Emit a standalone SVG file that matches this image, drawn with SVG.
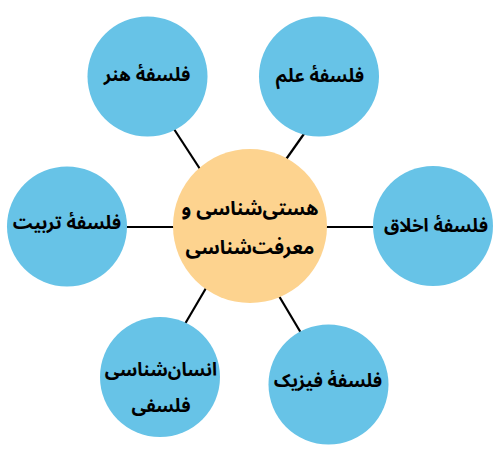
<svg xmlns="http://www.w3.org/2000/svg" width="500" height="453" viewBox="0 0 500 453">
<style>
.c{stroke:#000;stroke-width:2.2;fill:none}
.b{fill:#67c3e7}
.o{fill:#fdd38f}
text{font-family:"Noto Sans Arabic","Noto Naskh Arabic","Noto Sans",sans-serif;font-weight:bold;fill:#000;text-anchor:middle;direction:rtl}
.t{font-size:18.5px}
.m{font-size:19.5px}
</style>
<rect width="500" height="453" fill="#fff"/>
<g id="connectors">
<line class="c" x1="172" y1="126" x2="200" y2="169"/>
<line class="c" x1="306" y1="131" x2="282" y2="165"/>
<line class="c" x1="120" y1="227" x2="180" y2="227"/>
<line class="c" x1="320" y1="227" x2="380" y2="227"/>
<line class="c" x1="209" y1="283" x2="182" y2="329"/>
<line class="c" x1="276" y1="291" x2="304" y2="338"/>
</g>
<g id="center"><circle class="o" cx="250" cy="226" r="77"/><text class="m" x="250" y="215">هستی‌شناسی و</text><text class="m" x="250" y="254">معرفت‌شناسی</text></g>
<g id="honar"><circle class="b" cx="147.5" cy="76.5" r="60"/><text class="t" x="147" y="81">فلسفهٔ هنر</text></g>
<g id="elm"><circle class="b" cx="319" cy="76.5" r="60"/><text class="t" x="320" y="82">فلسفهٔ علم</text></g>
<g id="tarbiat"><circle class="b" cx="67" cy="226.5" r="60"/><text class="t" x="67" y="229">فلسفهٔ تربیت</text></g>
<g id="akhlagh"><circle class="b" cx="433" cy="226" r="60"/><text class="t" x="436" y="232">فلسفهٔ اخلاق</text></g>
<g id="ensan"><circle class="b" cx="160" cy="377" r="60"/><text class="t" x="161" y="376">انسان‌شناسی</text><text class="t" x="161" y="412">فلسفی</text></g>
<g id="fizik"><circle class="b" cx="328.5" cy="384.5" r="60"/><text class="t" x="328" y="387">فلسفهٔ فیزیک</text></g>
</svg>
